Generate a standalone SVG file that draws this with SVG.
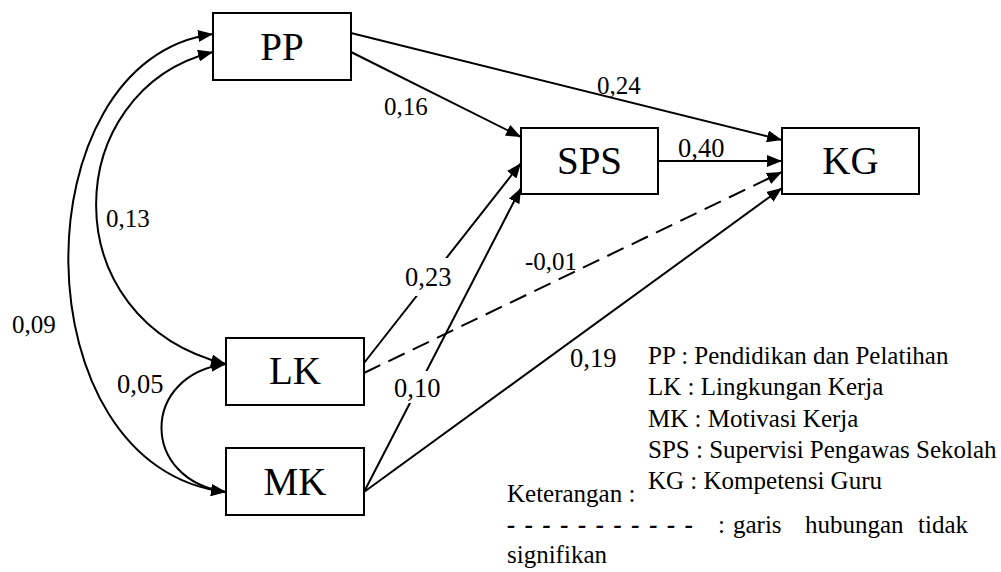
<svg xmlns="http://www.w3.org/2000/svg" width="1001" height="572" viewBox="0 0 1001 572" font-family="'Liberation Serif', 'DejaVu Serif', serif">
  <style>
    text { font-family: 'Liberation Serif', 'DejaVu Serif', serif; fill: #000; }
    .box { fill: #fff; stroke: #000; stroke-width: 2; }
    .nt { font-size: 39px; text-anchor: middle; }
    .lbl { font-size: 25px; }
    .lbl2 { font-size: 26.5px; }
    .leg { font-size: 25px; }
    .ln { fill: none; stroke: #000; stroke-width: 2; }
    .arr { marker-end: url(#ah); }
    .both { marker-start: url(#ah); marker-end: url(#ah); }
    .dash { stroke-dasharray: 18 9; }
  </style>
  <defs>
    <marker id="ah" markerUnits="userSpaceOnUse" markerWidth="16" markerHeight="12" refX="15" refY="6" orient="auto-start-reverse">
      <path d="M0,0 L15,6 L0,12 z" fill="#000"/>
    </marker>
  </defs>
  <rect width="1001" height="572" fill="#fff"/>

  <g id="connectors">
    <path class="ln arr" d="M351,33 L782,140"/>
    <path class="ln arr" d="M351,52 L521,137"/>
    <path class="ln arr" d="M658,161 L782,161"/>
    <path class="ln arr" d="M364,363 L521,163"/>
    <path class="ln arr" d="M364,492 L521,188"/>
    <path class="ln arr" d="M364,492 L782,188"/>
    <path class="ln arr dash" d="M364,373 L782,172"/>
    <path class="ln both" d="M213,34 C18,60 18,468 226,492"/>
    <path class="ln both" d="M213,52 C60,90 50,320 226,364"/>
    <path class="ln both" d="M226,364 C140,375 140,480 226,492"/>
  </g>

  <g id="edge-labels">
    <text class="lbl" x="384" y="115">0,16</text>
    <text class="lbl" x="597" y="94">0,24</text>
    <text class="lbl2" x="678" y="157">0,40</text>
    <text class="lbl" x="106" y="227">0,13</text>
    <text class="lbl" x="12" y="333">0,09</text>
    <text class="lbl2" x="117" y="393">0,05</text>
    <rect x="400" y="258" width="56" height="38" fill="#fff"/>
    <text class="lbl2" x="405" y="286">0,23</text>
    <text class="lbl" x="525" y="270">-0,01</text>
    <rect x="392" y="371" width="50" height="32" fill="#fff"/>
    <text class="lbl2" x="394" y="397">0,10</text>
    <text class="lbl2" x="570" y="367">0,19</text>
  </g>

  <g id="node-PP">
    <rect class="box" x="213" y="13" width="138" height="67"/>
    <text class="nt" x="282" y="60">PP</text>
  </g>
  <g id="node-SPS">
    <rect class="box" x="521" y="128" width="137" height="66"/>
    <text class="nt" x="589.5" y="174">SPS</text>
  </g>
  <g id="node-KG">
    <rect class="box" x="782" y="128" width="137" height="66"/>
    <text class="nt" x="850.5" y="174">KG</text>
  </g>
  <g id="node-LK">
    <rect class="box" x="226" y="338" width="138" height="67"/>
    <text class="nt" x="295" y="384">LK</text>
  </g>
  <g id="node-MK">
    <rect class="box" x="226" y="448" width="138" height="67"/>
    <text class="nt" x="295" y="495">MK</text>
  </g>

  <g id="legend">
    <text class="leg" x="648" y="364">PP : Pendidikan dan Pelatihan</text>
    <text class="leg" x="648" y="395">LK : Lingkungan Kerja</text>
    <text class="leg" x="648" y="427">MK : Motivasi Kerja</text>
    <text class="leg" x="648" y="458">SPS : Supervisi Pengawas Sekolah</text>
    <text class="leg" x="648" y="489">KG : Kompetensi Guru</text>
    <text class="leg" x="507" y="502">Keterangan :</text>
    <text class="leg" x="507" y="533" font-weight="bold" font-style="italic" textLength="186" lengthAdjust="spacing">- - - - - - - - - - -</text>
    <text class="leg" x="718" y="533">:</text>
    <text class="leg" x="733" y="533">garis</text>
    <text class="leg" x="805" y="533">hubungan</text>
    <text class="leg" x="918" y="533">tidak</text>
    <text class="leg" x="507" y="563">signifikan</text>
  </g>
</svg>
